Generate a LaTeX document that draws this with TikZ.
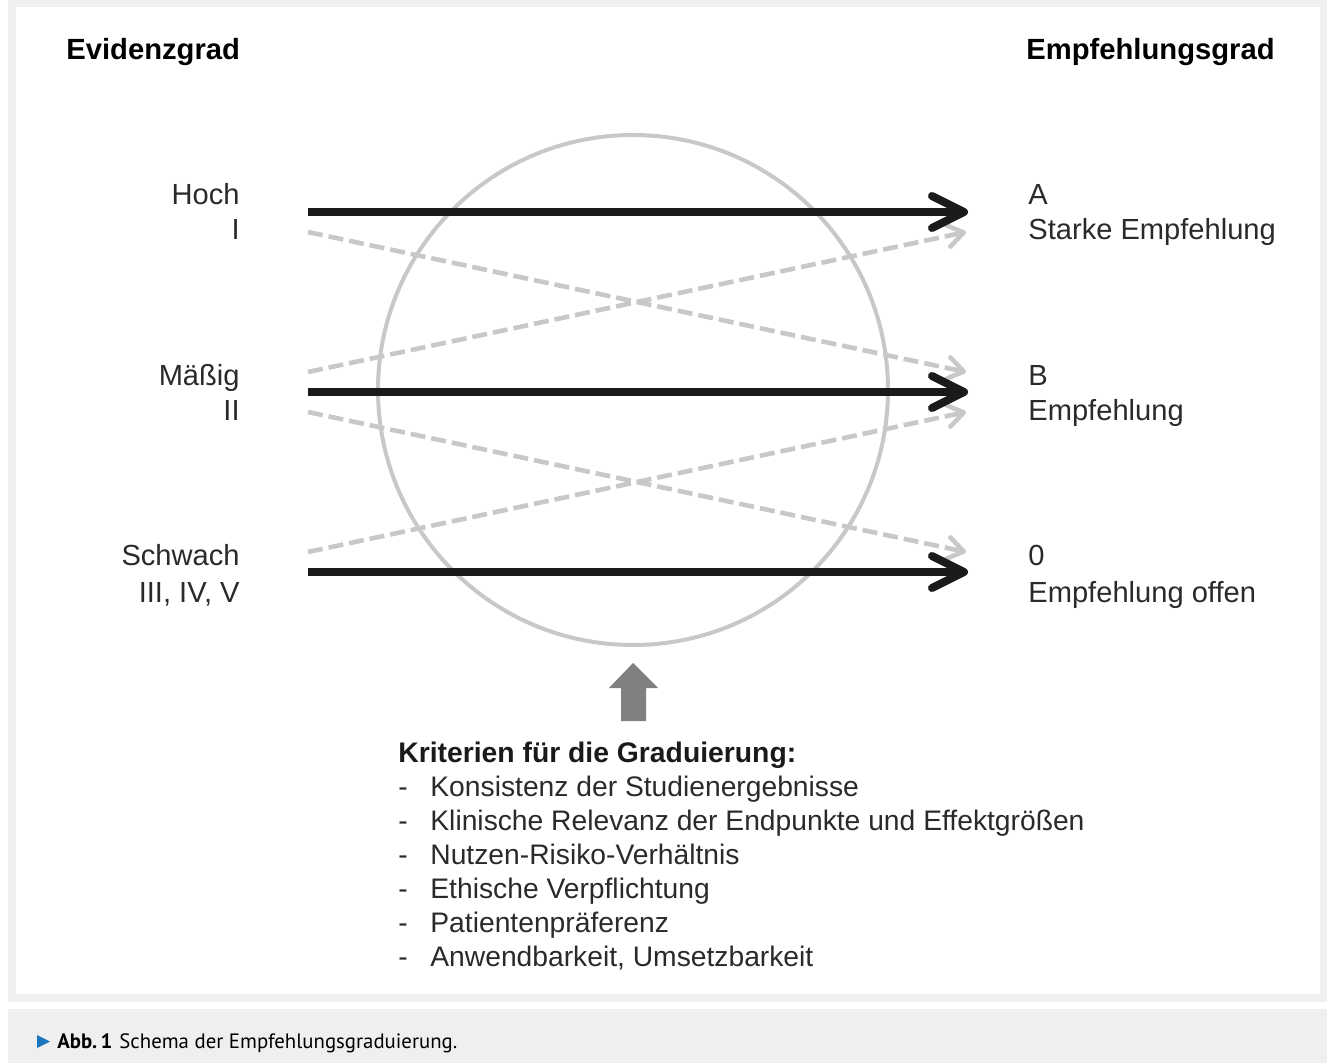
\documentclass[tikz,border=0pt]{standalone}
\usepackage{fontspec}
\setmainfont{Liberation Sans}
\newfontfamily\capfont{PT Sans}
\usetikzlibrary{arrows.meta}
\definecolor{panelgray}{HTML}{EFEFEF}
\definecolor{ringgray}{HTML}{C8C8C8}
\definecolor{pushgray}{HTML}{808080}
\definecolor{barblack}{HTML}{1A1A1A}
\definecolor{txtgray}{HTML}{2A2A2A}
\definecolor{capblue}{HTML}{1B75BB}
\tikzset{
  strong/.style={draw=barblack, line width=4pt,
    -{Straight Barb[length=16pt,width=16pt,round]}},
  weak/.style={draw=ringgray, line width=2.3pt, dash pattern=on 7.5pt off 3pt,
    -{Straight Barb[length=8pt,width=11pt,round]}},
  lbl/.style={font=\fontsize{14.55}{17}\selectfont, text=txtgray, inner sep=0pt},
  item/.style={font=\fontsize{14.12}{17}\selectfont, text=txtgray, inner sep=0pt},
  head/.style={font=\bfseries\fontsize{14.6}{17}\selectfont, text=black, inner sep=0pt}
}
\begin{document}
\begin{tikzpicture}[x=0.5pt,y=-0.5pt]
\useasboundingbox (0,0) rectangle (1327,1063);
% panel and caption bar
\fill[panelgray] (8,0) rectangle (1327,1002);
\fill[white] (16,7) rectangle (1320,994);
\fill[panelgray] (8,1009) rectangle (1327,1063);
% headings
\node[head, anchor=base west] (evid) at (66,60) {Evidenzgrad};
\node[head, anchor=base east] (empf) at (1275,60) {Empfehlungsgrad};
% circle of criteria
\draw[ringgray, line width=2pt] (633,390) circle (127.5pt);
% start and end points
\coordinate (hochS) at (308,212);
\coordinate (hochW) at (308,232);
\coordinate (mittU) at (308,372);
\coordinate (mittS) at (308,392);
\coordinate (mittW) at (308,412);
\coordinate (schwU) at (308,552);
\coordinate (schwS) at (308,572);
\coordinate (aS) at (968,212);
\coordinate (aW) at (966,232);
\coordinate (bU) at (966,372);
\coordinate (bS) at (968,392);
\coordinate (bW) at (966,412);
\coordinate (nullU) at (966,552);
\coordinate (nullS) at (968,572);
% dashed links
\draw[weak] (hochW) -- (bU);
\draw[weak] (mittU) -- (aW);
\draw[weak] (mittW) -- (nullU);
\draw[weak] (schwU) -- (bW);
% solid links
\draw[strong] (hochS) -- (aS);
\draw[strong] (mittS) -- (bS);
\draw[strong] (schwS) -- (nullS);
% left labels
\node[lbl, anchor=base east] (hoch) at (240,205) {Hoch};
\node[lbl, anchor=base east] (eins) at (240,240) {I};
\node[lbl, anchor=base east] (mass) at (240,386) {Mäßig};
\node[lbl, anchor=base east] (zwei) at (240,421) {II};
\node[lbl, anchor=base east] (schw) at (240,566) {Schwach};
\node[lbl, anchor=base east] (drei) at (240,602) {III, IV, V};
% right labels
\node[lbl, anchor=base west] (gradA) at (1028,205) {A};
\node[lbl, anchor=base west] (textA) at (1028,240) {Starke Empfehlung};
\node[lbl, anchor=base west] (gradB) at (1028,386) {B};
\node[lbl, anchor=base west] (textB) at (1028,421) {Empfehlung};
\node[lbl, anchor=base west] (grad0) at (1028,566) {0};
\node[lbl, anchor=base west] (text0) at (1028,602) {Empfehlung offen};
% push arrow
\fill[pushgray] (621,721) -- (621,688) -- (609,688) -- (633,663) -- (658,688)
  -- (646,688) -- (646,721) -- cycle;
% criteria
\node[head, anchor=base west, text=barblack, font=\bfseries\fontsize{14.15}{17}\selectfont]
  (krit) at (398,762) {Kriterien für die Graduierung:};
\foreach \txt [count=\i] in {Konsistenz der Studienergebnisse,
  Klinische Relevanz der Endpunkte und Effektgrößen,
  Nutzen-Risiko-Verhältnis, Ethische Verpflichtung,
  Patientenpräferenz, {Anwendbarkeit, Umsetzbarkeit}} {
  \node[item, anchor=base west] (dash\i) at (398,{762+34*\i}) {-};
  \node[item, anchor=base west] (krit\i) at (430,{762+34*\i}) {\txt};
}
% caption
\fill[capblue] (37,1035) -- (50,1041.5) -- (37,1048) -- cycle;
\node[anchor=base west, inner sep=0pt, font=\capfont\fontsize{10.4}{12}\selectfont]
  (cap) at (57,1048) {\textbf{Abb.\,1}\hspace{3.5pt}Schema der Empfehlungsgraduierung.};
\end{tikzpicture}
\end{document}
